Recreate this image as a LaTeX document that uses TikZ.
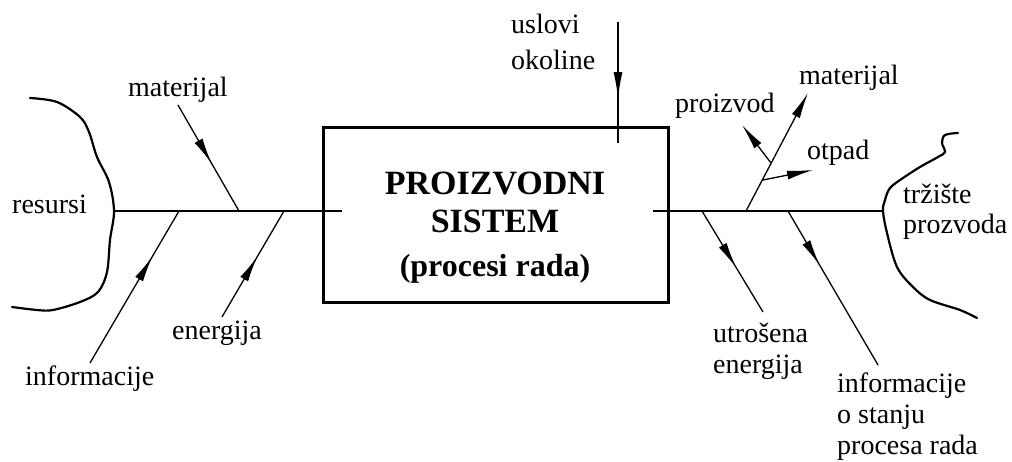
\documentclass[tikz,border=0pt]{standalone}
\usepackage{fontspec}
\setmainfont{Liberation Serif}
\usetikzlibrary{arrows.meta,decorations.markings}
\tikzset{
  lbl/.style={font=\fontsize{28}{31}\selectfont, inner sep=0pt, anchor=base west, align=left},
  ttl/.style={font=\fontsize{34}{38}\selectfont\bfseries, inner sep=0pt, anchor=base},
  spine/.style={line width=1.3pt},
  branch/.style={line width=1.3pt},
  blob/.style={line width=2.2pt, line join=round, line cap=round},
  sysbox/.style={draw, line width=3pt, minimum width=345pt, minimum height=175pt, inner sep=0pt},
  midarrow/.style={branch, postaction={decorate}, decoration={markings, mark=at position #1 with {\arrow{Latex[length=26pt,width=9pt]}}}},
  endarrow/.style={branch, -{Latex[length=26pt,width=9pt]}},
}
\begin{document}
\begin{tikzpicture}[x=1pt,y=-1pt]
\useasboundingbox (0,0) rectangle (1012,462);

% system box
\node[sysbox] (sys) at (495.5,215.5) {};
\node[ttl] (t1) at (495,195) {PROIZVODNI};
\node[ttl] (t2) at (495,233) {SISTEM};
\node[ttl, font=\fontsize{32}{36}\selectfont\bfseries] (t3) at (495,277) {(procesi rada)};

% resources blob
\draw[blob] plot[smooth, tension=0.55] coordinates {(30,98) (57,102) (80,117) (89,132) (97,157) (109,182) (114,211) (110,240) (107,272) (98,292) (80,302) (53,310) (37,310) (12,307)};
% market blob
\draw[blob] plot[smooth, tension=0.55] coordinates {(958,133) (945,135) (942,143) (945,152) (938,157) (920,167) (903,178) (890,188) (885,200) (883,211) (887,233) (897,267) (913,287) (930,300) (960,310) (977,318)};

% spine coordinates
\coordinate (L0) at (114,211);
\coordinate (L1) at (342,211);
\coordinate (R0) at (653,211);
\coordinate (R1) at (883,211);
\draw[spine] (L0) -- (L1);
\draw[spine] (R0) -- (R1);

% left labels
\node[lbl] (resursi) at (12,214) {resursi};
\node[lbl] (matL) at (128,97) {materijal};
\node[lbl] (infL) at (25,385) {informacije};
\node[lbl] (enL) at (172,340) {energija};

% left branches
\coordinate (matLs) at (178,105);
\coordinate (matLe) at (239,211);
\coordinate (infLs) at (90,363);
\coordinate (infLe) at (179,211);
\coordinate (enLs) at (222,317);
\coordinate (enLe) at (284,211);
\draw[midarrow=0.55] (matLs) -- (matLe);
\draw[midarrow=0.70] (infLs) -- (infLe);
\draw[midarrow=0.57] (enLs) -- (enLe);

% environment (base anchor = last line)
\node[lbl, font=\fontsize{28}{36}\selectfont] (usl) at (511,70) {uslovi\\okoline};
\coordinate (uslS) at (618,22);
\coordinate (uslE) at (618,143);
\draw[midarrow=0.63] (uslS) -- (uslE);

% right upper branches
\coordinate (bR) at (746,211);
\coordinate (matRe) at (808,93);
\coordinate (prS) at (771,163);
\coordinate (prE) at (742,125);
\coordinate (otS) at (763,180);
\coordinate (otE) at (813,170);
\draw[endarrow] (bR) -- (matRe);
\draw[endarrow] (prS) -- (prE);
\draw[endarrow] (otS) -- (otE);
\node[lbl] (matR) at (799,85) {materijal};
\node[lbl] (proiz) at (675,113) {proizvod};
\node[lbl] (otpad) at (807,160) {otpad};

% right lower branches
\coordinate (utS) at (702,211);
\coordinate (utE) at (763,312);
\coordinate (inRS) at (788,211);
\coordinate (inRE) at (878,365);
\draw[midarrow=0.56] (utS) -- (utE);
\draw[midarrow=0.35] (inRS) -- (inRE);
\node[lbl] (utr) at (713,373) {utrošena\\energija};
\node[lbl] (infR) at (837,454) {informacije\\o stanju\\procesa rada};
\node[lbl, font=\fontsize{28}{30}\selectfont] (trz) at (903,234) {tržište\\prozvoda};
\end{tikzpicture}
\end{document}
